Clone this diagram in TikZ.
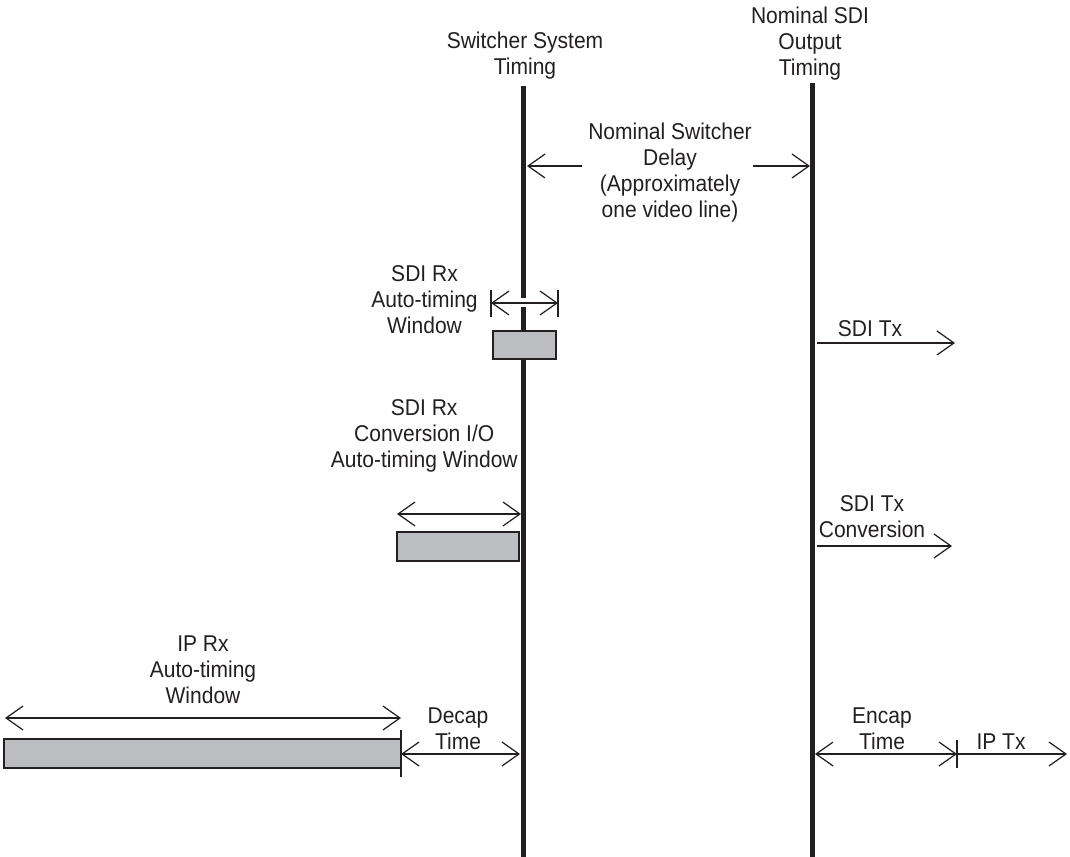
\documentclass[tikz,border=0pt]{standalone}
\usepackage{fontspec}
\setmainfont{Liberation Sans}[FakeStretch=0.92]
\usepackage{xcolor}
\usepackage{tikz}
\usetikzlibrary{arrows.meta}

\definecolor{ink}{RGB}{35,31,32}
\definecolor{winfill}{RGB}{188,189,192}

\begin{document}
\begin{tikzpicture}[
    x=0.02cm, y=-0.02cm,
    note/.style={align=center, inner sep=0pt, text=ink, font=\fontsize{13}{14.8}\selectfont},
    timeline/.style={draw=ink, line width=0.1cm},
    window/.style={draw=ink, fill=winfill, line width=0.6pt},
    arrow/.style={-{Straight Barb[length=0.34cm, width=0.48cm]}, draw=ink, line width=0.7pt},
    twoway/.style={{Straight Barb[length=0.34cm, width=0.48cm]}-{Straight Barb[length=0.34cm, width=0.48cm]}, draw=ink, line width=0.7pt},
    tick/.style={draw=ink, line width=0.7pt}
]
\useasboundingbox (0,0) rectangle (1070,857);

\node[note, anchor=north] (systiming) at (525,32) {Switcher System\\Timing};
\node[note, anchor=north] (outtiming) at (810,7) {Nominal SDI\\Output\\Timing};
\node[note, anchor=north] (delay) at (670,123) {Nominal Switcher\\Delay\\(Approximately\\one video line)};

\node[note, anchor=north east] (rxwin) at (478,265) {SDI Rx\\Auto-timing\\Window};
\node[note, anchor=north east] (convwin) at (518,399) {SDI Rx\\Conversion I/O\\Auto-timing Window};
\node[note, anchor=north] (iprx) at (203,635) {IP Rx\\Auto-timing\\Window};
\node[note, anchor=north] (decap) at (458,707) {Decap\\Time};

\node[note, anchor=north] (sditx) at (870,320) {SDI Tx};
\node[note, anchor=north] (convtx) at (872,495) {SDI Tx\\Conversion};
\node[note, anchor=north] (encap) at (882,707) {Encap\\Time};
\node[note, anchor=north] (iptx) at (1001,733) {IP Tx};

\coordinate (swtop) at (523,86);
\coordinate (swbot) at (523,857);
\coordinate (outtop) at (812,83);
\coordinate (outbot) at (812,857);

\coordinate (delayl) at (582,166);
\coordinate (delayr) at (753,166);
\coordinate (delaylend) at (527,166);
\coordinate (delayrend) at (810,166);

\coordinate (rxl) at (491,303);
\coordinate (rxr) at (558,303);
\coordinate (rxboxa) at (493,331);
\coordinate (rxboxb) at (556,359);

\coordinate (cvl) at (397,514);
\coordinate (cvr) at (521,514);
\coordinate (cvboxa) at (397,532);
\coordinate (cvboxb) at (519,561);

\coordinate (ipl) at (5,718);
\coordinate (ipr) at (401,718);
\coordinate (ipboxa) at (4,739);
\coordinate (ipboxb) at (401,768);
\coordinate (decapl) at (401,754);
\coordinate (decapr) at (520,754);

\coordinate (txl) at (817,343);
\coordinate (txr) at (955,343);
\coordinate (ctxl) at (817,546);
\coordinate (ctxr) at (952,546);
\coordinate (encapl) at (815,754);
\coordinate (encapr) at (957,754);
\coordinate (iptxr) at (1067,754);

\draw[timeline] (swtop) -- (swbot);
\draw[timeline] (outtop) -- (outbot);

\draw[arrow] (delayl) -- (delaylend);
\draw[arrow] (delayr) -- (delayrend);

\fill[white] (519,298.5) rectangle (527,307.5);
\draw[tick] (rxl) ++(0,-13) -- ++(0,27);
\draw[tick] (rxr) ++(0,-13) -- ++(0,27);
\draw[twoway] (rxl) -- (rxr);
\draw[window] (rxboxa) rectangle (rxboxb);

\draw[twoway] (cvl) -- (cvr);
\draw[window] (cvboxa) rectangle (cvboxb);

\draw[twoway] (ipl) -- (ipr);
\draw[window] (ipboxa) rectangle (ipboxb);
\draw[tick] (decapl) ++(0,-24) -- ++(0,47);
\draw[twoway] (decapl) -- (decapr);

\draw[arrow] (txl) -- (txr);
\draw[arrow] (ctxl) -- (ctxr);
\draw[twoway] (encapl) -- (encapr);
\draw[tick] (encapr) ++(0,-14) -- ++(0,28);
\draw[arrow] (encapr) -- (iptxr);

\end{tikzpicture}
\end{document}
